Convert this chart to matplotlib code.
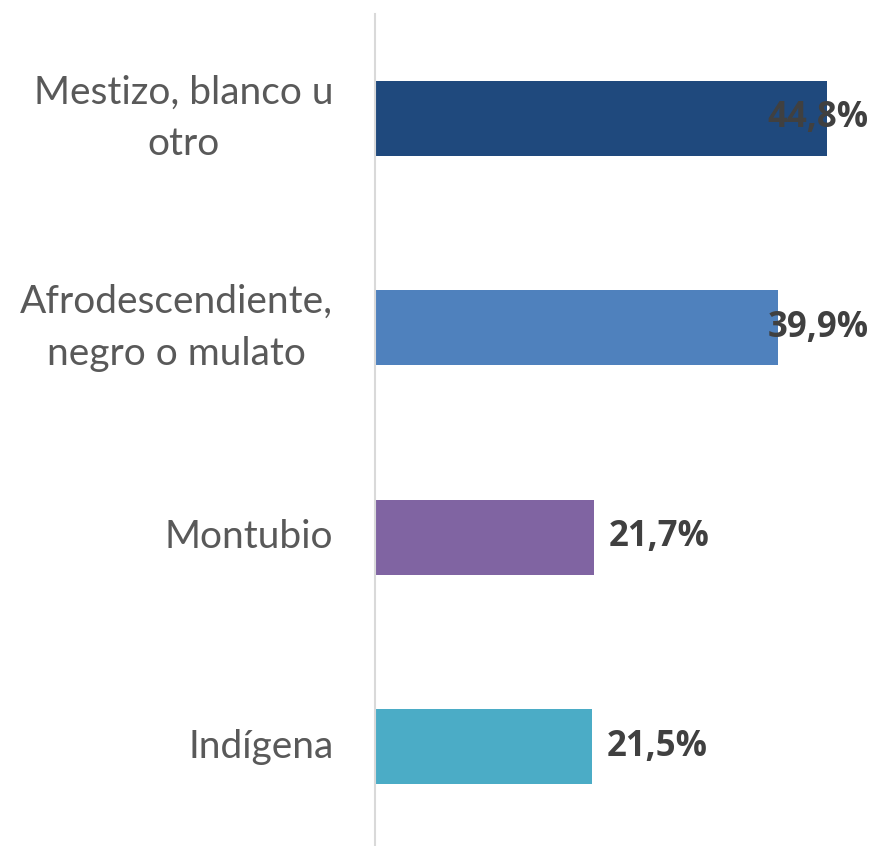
import matplotlib
matplotlib.use('Agg')
import matplotlib.pyplot as plt

# datos
categorias = ['Mestizo, blanco u\notro', 'Afrodescendiente,\nnegro o mulato', 'Montubio', 'Indígena']
valores = [44.8, 39.9, 21.7, 21.5]
etiquetas = ['44,8%', '39,9%', '21,7%', '21,5%']
colores = ['#1F497D', '#4F81BD', '#8064A2', '#4BACC6']

fig = plt.figure(figsize=(8.75, 8.46), dpi=100)
# eje: x de 375px a 875px, y de ~14px a ~851px
ax = fig.add_axes([375 / 875, -5.2 / 846, 500 / 875, 837.4 / 846])

y = list(range(len(categorias)))
ax.barh(y, valores, height=0.358, color=colores, zorder=2)

ax.set_xlim(0, 500 / 10.09)
ax.set_ylim(len(categorias) - 0.5, -0.5)

# etiquetas de valores (Excel las empuja adentro si no caben)
limite = (869 - 375) / 10.09
ancho = 10.8
for yi, v, lab in zip(y, valores, etiquetas):
    if v + 1.5 + ancho > limite:
        ax.text(limite, yi, lab, ha='right', va='center', fontsize=25,
                fontweight='bold', family='Open Sans', color='#404040', zorder=3)
    else:
        ax.text(v + 1.5, yi, lab, ha='left', va='center', fontsize=25,
                fontweight='bold', family='Open Sans', color='#404040', zorder=3)

ax.set_yticks(y)
ax.set_yticklabels(categorias, fontsize=28, family='Lato', color='#595959',
                   multialignment='center', linespacing=1.55, va='center')
ax.tick_params(axis='y', length=0, pad=30)
ax.set_xticks([])

for s in ['top', 'right', 'bottom']:
    ax.spines[s].set_visible(False)
ax.spines['left'].set_color('#D9D9D9')
ax.spines['left'].set_linewidth(1.5)

fig.savefig('out.png', dpi=100)
